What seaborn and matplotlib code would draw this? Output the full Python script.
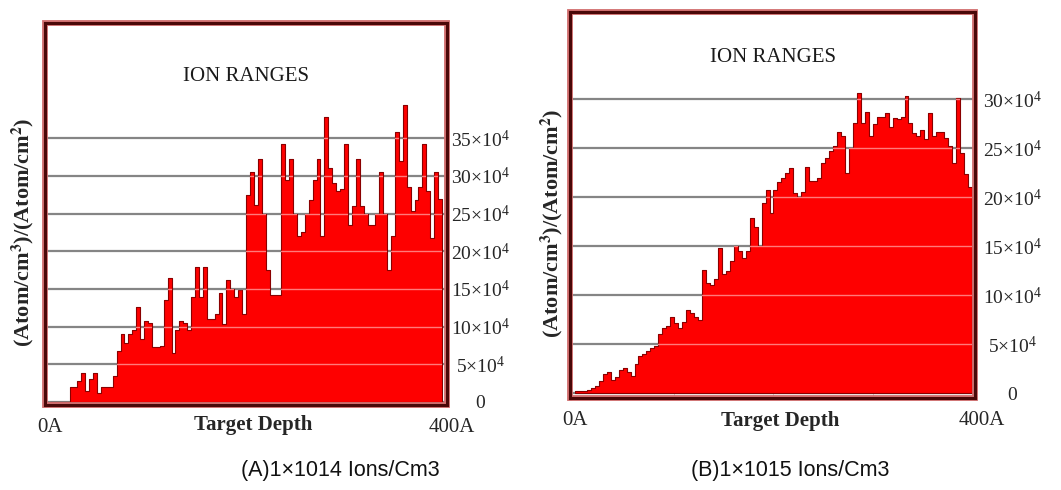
import numpy as np
import pandas as pd
import seaborn as sns
import matplotlib
matplotlib.use("Agg")
import matplotlib.pyplot as plt
import matplotlib.transforms as mtransforms
from matplotlib.patches import Rectangle

# ---------------- data (ion counts in units of 10^4, 4 A bins over 0-400 A) ----------------
bin_edges = list(range(0, 404, 4))

ions_A = [0, 0, 0, 0, 0, 2.0, 2.0, 2.8, 3.8, 1.5,
          3.0, 3.8, 1.2, 2.0, 2.0, 2.0, 3.5, 6.8, 9.0, 7.8,
          9.0, 9.5, 12.6, 8.3, 10.8, 10.5, 7.3, 7.3, 7.4, 13.5,
          16.4, 6.5, 9.5, 10.8, 10.5, 9.5, 14.0, 17.9, 13.9, 17.9,
          11.0, 11.0, 11.7, 14.4, 10.4, 16.2, 15.0, 13.9, 14.8, 11.7,
          27.5, 30.5, 26.1, 32.3, 25.0, 17.5, 14.2, 14.2, 14.2, 34.3,
          29.5, 32.3, 25.0, 22.0, 22.5, 25.0, 26.8, 29.4, 32.3, 22.0,
          37.8, 31.0, 29.0, 28.0, 28.3, 34.3, 23.5, 26.0, 32.3, 26.0,
          25.0, 23.5, 23.5, 25.0, 30.5, 25.0, 17.5, 22.0, 35.8, 32.0,
          39.4, 28.5, 25.4, 26.8, 28.5, 34.3, 28.0, 21.7, 30.5, 27.0]

ions_B = [0.2, 0.2, 0.2, 0.3, 0.5, 0.7, 1.2, 2.0, 2.2, 1.3,
          1.6, 2.4, 2.6, 2.2, 1.7, 3.0, 3.8, 4.0, 4.3, 4.6,
          4.8, 6.0, 6.6, 6.8, 7.8, 7.2, 6.6, 7.3, 8.5, 8.2,
          7.8, 7.5, 12.6, 11.2, 11.0, 11.6, 14.8, 12.2, 12.5, 13.5,
          15.0, 14.5, 13.8, 14.5, 17.9, 17.0, 15.0, 19.4, 20.7, 18.4,
          20.7, 21.5, 22.0, 22.5, 23.0, 20.4, 20.0, 20.5, 23.1, 21.6,
          21.6, 22.0, 23.5, 24.0, 24.7, 25.2, 26.7, 26.2, 22.5, 25.0,
          27.6, 30.6, 27.6, 28.7, 26.2, 27.5, 28.2, 28.2, 28.6, 27.2,
          28.1, 28.0, 28.2, 30.3, 27.6, 26.5, 26.2, 26.9, 25.9, 28.6,
          26.2, 26.7, 26.7, 26.0, 25.2, 23.5, 30.1, 24.5, 22.4, 21.0]

ticks_A = [0, 5, 10, 15, 20, 25, 30, 35]
ticks_B = [0, 5, 10, 15, 20, 25, 30]
x_ticks = [0, 400]
x_tick_labels = ["0A", "400A"]
panel_title = "ION RANGES"
x_label = "Target Depth"
y_label = r"(Atom/cm$^{\mathbf{3}}$)/(Atom/cm$^{\mathbf{2}}$)"
captions = ["(A)1\u00d71014 Ions/Cm3", "(B)1\u00d71015 Ions/Cm3"]

# ---------------- style ----------------
sns.set_style("white")
plt.rcParams["font.family"] = ["Liberation Serif", "DejaVu Serif"]
plt.rcParams["mathtext.fontset"] = "stix"
plt.rcParams["mathtext.default"] = "regular"

W, H = 1061, 490
fig = plt.figure(figsize=(W / 100, H / 100), dpi=100)
fig.patch.set_facecolor("white")

FILL = "#fe0000"
EDGE = "#8a0000"
FRAME = "#4a0808"


def fmt(v):
    v = int(round(v))
    return "0" if v == 0 else rf"${v}{{\times}}10^{{4}}$"


def panel(rect, values, ticks, xlim, ylim, tick_pad, xlab_pos, ylab_pos, title_y, x400_shift):
    ax = fig.add_axes(rect)
    df = pd.DataFrame({"depth": [e + 2 for e in bin_edges[:-1]], "ions": values})
    sns.histplot(data=df, x="depth", weights="ions", bins=bin_edges, element="step",
                 fill=True, color=FILL, alpha=1.0, edgecolor=EDGE, linewidth=0.8, ax=ax,
                 zorder=2)
    fill_coll = ax.collections[-1]
    ax.set_xlim(*xlim)
    ax.set_ylim(*ylim)
    ax.set_axisbelow(True)
    # grid lines (grey in white region, light red inside the filled area)
    ax.set_yticks(ticks)
    ax.yaxis.grid(True, color="#858585", linewidth=1.6)
    ax.xaxis.grid(False)
    for t in ticks[1:]:
        ln = ax.axhline(t, color="#ff7a7a", linewidth=1.0, zorder=3)
        ln.set_clip_path(fill_coll.get_paths()[0], fill_coll.get_transform())
    # y ticks on the right
    ax.yaxis.tick_right()
    ax.set_yticklabels([fmt(t) for t in ticks])
    ax.tick_params(axis="y", length=0, pad=tick_pad, labelsize=14)
    for lab in ax.get_yticklabels():
        lab.set_horizontalalignment("center")
    # x ticks
    ax.set_xticks(x_ticks)
    ax.set_xticklabels(x_tick_labels)
    ax.tick_params(axis="x", length=0, pad=9, labelsize=15)
    lab400 = ax.xaxis.get_major_ticks()[1].label1
    lab400.set_transform(lab400.get_transform() +
                         mtransforms.ScaledTranslation(x400_shift / 100, 0, fig.dpi_scale_trans))
    # small inward minor ticks
    ax.set_xticks([100, 200, 300], minor=True)
    ax.tick_params(axis="x", which="minor", direction="in", length=3, color="#999999", bottom=True)
    # labels
    ax.set_xlabel(x_label, fontsize=15, fontweight="bold")
    ax.xaxis.set_label_coords(*xlab_pos)
    ax.xaxis.label.set_va("center")
    ax.set_ylabel(y_label, fontsize=16, fontweight="bold")
    ax.yaxis.set_label_position("left")
    ax.yaxis.set_label_coords(*ylab_pos)
    ax.yaxis.label.set_va("center")
    ax.text(0.5, title_y, panel_title, transform=ax.transAxes, ha="center", va="center",
            fontsize=15, color="#1a1a1a")
    # frame
    for s in ax.spines.values():
        s.set_visible(True)
        s.set_color(FRAME)
        s.set_linewidth(2.2)
        s.set_zorder(5)
    ax.add_patch(Rectangle((0, 0), 1, 1, transform=ax.transAxes, fill=False,
                           edgecolor="#d27070", linewidth=4.2, clip_on=False, zorder=4.5))
    return ax


axA = panel([45 / W, (H - 405) / H, 402 / W, 382 / H], ions_A, ticks_A,
            (-5.1, 405.1), (-0.4, 50.3), 24, (0.517, -0.052), (-0.055, 0.453), 0.861, 10)
axB = panel([570 / W, (H - 398) / H, 405 / W, 386 / H], ions_B, ticks_B,
            (-5.0, 403.0), (-0.5, 38.9), 27, (0.519, -0.06), (-0.044, 0.453), 0.881, 10)

fig.text(340 / W, 1 - 470 / H, captions[0], ha="center", va="center", fontsize=15.5,
         family=["Liberation Sans", "DejaVu Sans"], color="#111111")
fig.text(790 / W, 1 - 470 / H, captions[1], ha="center", va="center", fontsize=15.5,
         family=["Liberation Sans", "DejaVu Sans"], color="#111111")

fig.savefig("out.png", dpi=100, facecolor="white")
